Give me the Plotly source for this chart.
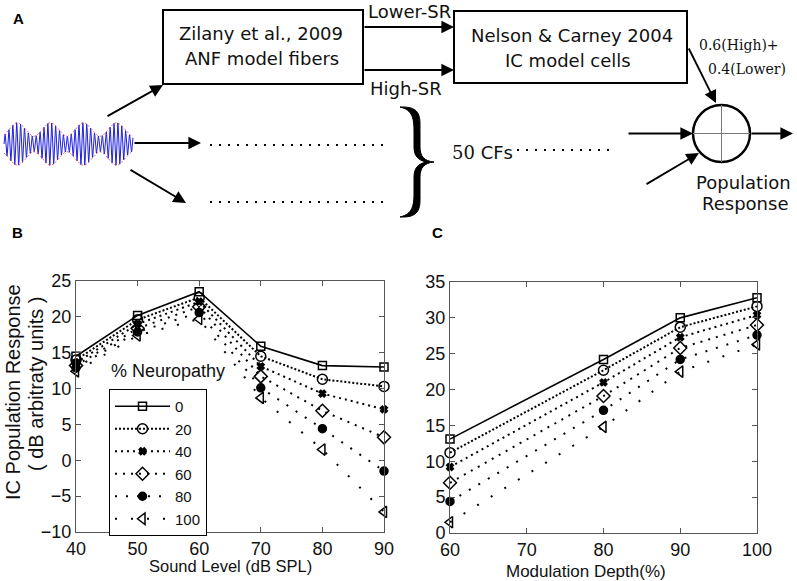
import numpy as np
import plotly.graph_objects as go

# ---------------- data ----------------
neuropathy_labels = ["0", "20", "40", "60", "80", "100"]

sound_level = [40, 50, 60, 70, 80, 90]
level_np0 = [14.5, 20.2, 23.5, 15.9, 13.2, 13.0]
level_np20 = [14.0, 19.6, 22.7, 14.5, 11.3, 10.3]
level_np40 = [13.6, 19.0, 22.1, 13.1, 9.3, 7.1]
level_np60 = [13.2, 18.4, 21.4, 11.7, 6.9, 3.2]
level_np80 = [12.9, 17.9, 20.6, 10.1, 4.4, -1.5]
level_np100 = [12.4, 17.4, 19.7, 8.7, 1.5, -7.2]

mod_depth = [60, 80, 90, 100]
depth_np0 = [13.1, 24.2, 30.0, 32.8]
depth_np20 = [11.2, 22.7, 28.7, 31.6]
depth_np40 = [9.2, 21.0, 27.3, 30.4]
depth_np60 = [7.0, 19.1, 25.8, 29.0]
depth_np80 = [4.4, 17.1, 24.2, 27.6]
depth_np100 = [1.5, 14.8, 22.5, 26.3]

level_series = [level_np0, level_np20, level_np40, level_np60, level_np80, level_np100]
depth_series = [depth_np0, depth_np20, depth_np40, depth_np60, depth_np80, depth_np100]

b_xticks = [40, 50, 60, 70, 80, 90]
b_yticks = [-10, -5, 0, 5, 10, 15, 20, 25]
c_xticks = [60, 70, 80, 90, 100]
c_yticks = [0, 5, 10, 15, 20, 25, 30, 35]

# AM stimulus illustration parameters (schematic)
stim_mod_cycles = 3.9
stim_carrier_per_mod = 8.5
stim_mod_depth = 0.47

# ---------------- styles ----------------
W, H = 797, 581
symbols = ["square-open", "circle-open", "x", "diamond-open", "circle", "triangle-left-open"]
msizes = [8, 10, 6, 10, 8, 10]
dashes = ["solid", "2px,2px", "2px,4px", "2px,6px", "2px,9px", "2px,14px"]
lwidths = [1.6, 2, 2, 2, 2, 2]
AX_FONT = dict(family="Liberation Sans, Arial", size=18, color="#111")
DG_FONT = dict(family="DejaVu Sans", size=18, color="#111")

fig = go.Figure()

for i, lab in enumerate(neuropathy_labels):
    style = dict(
        mode="lines+markers",
        line=dict(color="black", width=lwidths[i], dash=dashes[i]),
        marker=dict(symbol=symbols[i], size=msizes[i], color="black",
                    line=dict(color="black", width=1.5)),
        cliponaxis=False,
    )
    fig.add_trace(go.Scatter(x=sound_level, y=level_series[i], name=lab,
                             xaxis="x", yaxis="y", showlegend=True, **style))
    fig.add_trace(go.Scatter(x=mod_depth, y=depth_series[i], name=lab,
                             xaxis="x2", yaxis="y2", showlegend=False, **style))

# ---------------- diagram (panel A) in pixel space ----------------
xs = np.linspace(4, 133, 2000)
phase = (xs - 4) / (133 - 4) * stim_mod_cycles
env = 14.5 * (1 + stim_mod_depth * np.cos(2 * np.pi * (phase - 0.4)))
carrier = np.sin(2 * np.pi * phase * stim_carrier_per_mod)
fig.add_trace(go.Scatter(x=xs, y=144 - env * carrier, xaxis="x3", yaxis="y3",
                         mode="lines", line=dict(color="#2020e0", width=1),
                         showlegend=False, hoverinfo="skip"))
for sgn in (1, -1):
    fig.add_trace(go.Scatter(x=xs, y=144 - sgn * env, xaxis="x3", yaxis="y3",
                             mode="lines", line=dict(color="#e04040", width=0.8, dash="2px,2px"),
                             showlegend=False, hoverinfo="skip"))

shapes = []
def sh(**kw):
    d = dict(xref="x3", yref="y3", line=dict(color="black", width=2))
    d.update(kw)
    shapes.append(d)

sh(type="rect", x0=163, x1=363, y0=10, y1=84)
sh(type="rect", x0=454, x1=687, y0=11, y1=83)
sh(type="circle", x0=693, x1=750, y0=105, y1=162, line=dict(color="black", width=2.5))
sh(type="line", x0=721.5, x1=721.5, y0=105, y1=162, line=dict(color="#777", width=1))
sh(type="line", x0=693, x1=750, y0=133.5, y1=133.5, line=dict(color="#777", width=1))
sh(type="line", x0=210, x1=390, y0=145, y1=145, line=dict(color="black", width=2, dash="2px,7px"))
sh(type="line", x0=210, x1=390, y0=202, y1=202, line=dict(color="black", width=2, dash="2px,7px"))
sh(type="line", x0=517, x1=616, y0=150, y1=150, line=dict(color="black", width=2, dash="2px,7px"))
# curly brace "}"
brace = ("M400,107 C422,106 420,118 420,132 L420,147 C420,156 424,161 434,162 "
         "C424,163 420,168 420,177 L420,192 C420,206 422,218 400,217 "
         "C413,214 414,205 414,192 L414,177 C414,168 418,164 426,162 "
         "C418,160 414,156 414,147 L414,132 C414,119 413,110 400,107 Z")
sh(type="path", path=brace, fillcolor="black", line=dict(color="black", width=1))

annotations = []
def arrow(x0, y0, x1, y1):
    annotations.append(dict(xref="x3", yref="y3", axref="x3", ayref="y3",
                            x=x1, y=y1, ax=x0, ay=y0, text="", showarrow=True,
                            arrowhead=2, arrowsize=1.4, arrowwidth=1.8, arrowcolor="black"))

arrow(363, 27, 454, 27)
arrow(363, 70, 454, 70)
arrow(106, 117, 163, 85)
arrow(133, 143, 201, 143)
arrow(129, 169, 186, 203)
arrow(627, 133.5, 693, 133.5)
arrow(750, 133.5, 793, 133.5)
arrow(645, 185, 699, 153)
arrow(688, 47, 716, 103)

def txt(x, y, s, font=DG_FONT, **kw):
    d = dict(xref="x3", yref="y3", x=x, y=y, text=s, showarrow=False, font=font)
    d.update(kw)
    annotations.append(d)

txt(261, 33, "Zilany et al., 2009")
txt(262, 58, "ANF model fibers")
txt(572, 35, "Nelson &amp; Carney 2004")
txt(568, 60, "IC model cells")
txt(409, 11, "Lower-SR")
txt(406, 88, "High-SR")
txt(697, 45, "0.6(High)+", font=dict(family="DejaVu Serif", size=14, color="#111"), xanchor="left")
txt(706, 69, "0.4(Lower)", font=dict(family="DejaVu Serif", size=14, color="#111"), xanchor="left")
txt(743, 182, "Population")
txt(745, 203, "Response")
txt(450, 152, "<span style='font-family:DejaVu Serif'>50</span> CFs", xanchor="left")

bold = dict(family="Liberation Sans, Arial", size=15, color="black")
txt(18, 18, "<b>A</b>", font=bold)
txt(17, 232, "<b>B</b>", font=bold)
txt(437, 232, "<b>C</b>", font=bold)

# axis titles / legend heading
txt(168, 371, "% Neuropathy", font=AX_FONT)
txt(230, 566, "Sound Level (dB SPL)", font=dict(family="Liberation Sans, Arial", size=16.5, color="#111"))
txt(586, 571, "Modulation Depth(%)", font=dict(family="Liberation Sans, Arial", size=17, color="#111"))
TITLE_FONT = dict(family="Liberation Sans, Arial", size=20, color="#111")
txt(13, 392, "IC Population Response", font=TITLE_FONT, textangle=-90)
txt(36, 384, "( dB arbitraty units )", font=TITLE_FONT, textangle=-90)

axis_common = dict(showline=True, mirror="ticks", ticks="inside", ticklen=5,
                   linecolor="#555", tickcolor="#555", linewidth=1,
                   showgrid=False, zeroline=False, tickfont=AX_FONT)

fig.update_layout(
    width=W, height=H,
    margin=dict(l=0, r=0, t=0, b=0, autoexpand=False),
    paper_bgcolor="white", plot_bgcolor="rgba(0,0,0,0)",
    xaxis=dict(domain=[76 / W, 384 / W], range=[40, 90], tickvals=b_xticks,
               anchor="y", **axis_common),
    yaxis=dict(domain=[(H - 532) / H, (H - 281) / H], range=[-10, 25], tickvals=b_yticks,
               anchor="x", **axis_common),
    xaxis2=dict(domain=[450 / W, 757 / W], range=[60, 100], tickvals=c_xticks,
                anchor="y2", **axis_common),
    yaxis2=dict(domain=[(H - 533) / H, (H - 282) / H], range=[0, 35], tickvals=c_yticks,
                anchor="x2", **axis_common),
    xaxis3=dict(domain=[0, 1], range=[0, W], visible=False, anchor="y3"),
    yaxis3=dict(domain=[0, 1], range=[H, 0], visible=False, anchor="x3"),
    showlegend=True,
    legend=dict(x=109 / W, y=(H - 389) / H, xanchor="left", yanchor="top",
                bordercolor="black", borderwidth=1, bgcolor="white",
                font=dict(family="Liberation Sans, Arial", size=15, color="#111"),
                itemwidth=55, tracegroupgap=0),
    shapes=shapes,
    annotations=annotations,
)

fig.write_html("out.html", config={"displayModeBar": False},
               post_script="document.body.style.margin='0';document.body.style.overflow='hidden';")
